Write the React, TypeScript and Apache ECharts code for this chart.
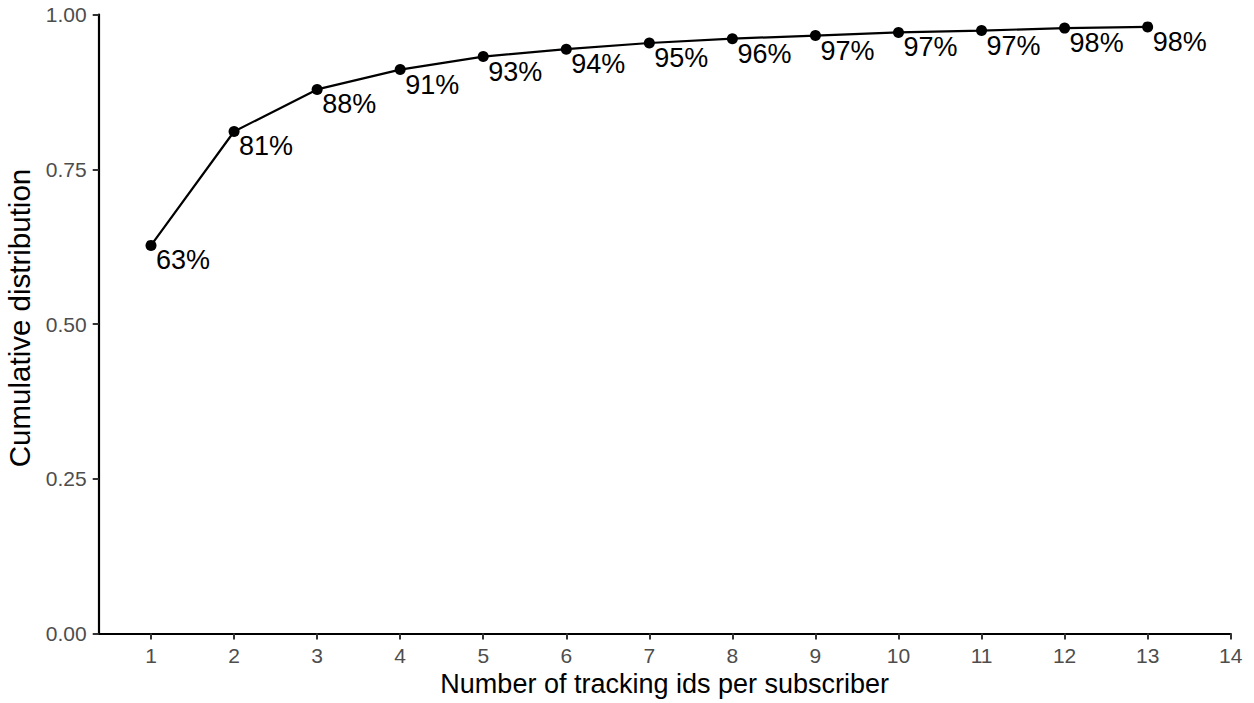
import React, { useEffect, useRef } from 'react';
import * as echarts from 'echarts';

// number of tracking ids per subscriber
const trackingIds = [1, 2, 3, 4, 5, 6, 7, 8, 9, 10, 11, 12, 13];
// cumulative share of subscribers
const cumulative = [0.627, 0.811, 0.879, 0.911, 0.932, 0.944, 0.954, 0.961, 0.966, 0.971, 0.974, 0.978, 0.98];
// x axis tick labels
const xTicks = [1, 2, 3, 4, 5, 6, 7, 8, 9, 10, 11, 12, 13, 14];

const FONT = "'Liberation Sans', Arial, Helvetica, sans-serif";

export default function App() {
  const chartRef = useRef<HTMLDivElement>(null);

  useEffect(() => {
    if (!chartRef.current) return;
    const chart = echarts.init(chartRef.current, null, { renderer: 'svg' });

    const option: any = {
      animation: false,
      backgroundColor: '#ffffff',
      textStyle: { fontFamily: FONT },
      grid: {
        left: 98.7,
        right: 23.3,
        top: 14.5,
        bottom: 69.5,
        containLabel: false,
        outerBoundsMode: 'none',
      },
      xAxis: {
        type: 'value',
        min: 0.37,
        max: 14,
        name: 'Number of tracking ids per subscriber',
        nameLocation: 'middle',
        nameGap: 34,
        nameTextStyle: { color: '#000000', fontSize: 27, fontFamily: FONT },
        axisLine: { show: true, onZero: false, lineStyle: { color: '#000000', width: 2.2 } },
        axisTick: {
          show: true,
          length: 6,
          customValues: xTicks,
          lineStyle: { color: '#333333', width: 2 },
        },
        axisLabel: {
          customValues: xTicks,
          margin: 11,
          color: '#4d4d4d',
          fontSize: 21,
          fontFamily: FONT,
        },
        splitLine: { show: false },
      },
      yAxis: {
        type: 'value',
        min: 0,
        max: 1,
        interval: 0.25,
        name: 'Cumulative distribution',
        nameLocation: 'middle',
        nameGap: 62.5,
        nameTextStyle: {
          color: '#000000',
          fontSize: 29.5,
          fontFamily: FONT,
          padding: [0, 0, 0, 12],
        },
        axisLine: { show: true, lineStyle: { color: '#000000', width: 2.2 } },
        axisTick: { show: true, length: 6, lineStyle: { color: '#333333', width: 2 } },
        axisLabel: {
          margin: 12,
          color: '#4d4d4d',
          fontSize: 21,
          fontFamily: FONT,
          formatter: (v: number) => v.toFixed(2),
        },
        splitLine: { show: false },
      },
      series: [
        {
          type: 'line',
          data: trackingIds.map((x, i) => [x, cumulative[i]]),
          symbol: 'circle',
          symbolSize: 11,
          showAllSymbol: true,
          lineStyle: { color: '#000000', width: 2.2 },
          itemStyle: { color: '#000000' },
          label: {
            show: true,
            position: [10.5, 7],
            align: 'left',
            verticalAlign: 'top',
            color: '#000000',
            fontSize: 27,
            fontFamily: FONT,
            formatter: (p: any) => Math.round(p.value[1] * 100) + '%',
          },
          emphasis: { disabled: true },
        },
      ],
    };

    chart.setOption(option);
    return () => {
      chart.dispose();
    };
  }, []);

  return (
    <div
      ref={chartRef}
      style={{ position: 'absolute', left: 0, top: 0, width: 1254, height: 703 }}
    />
  );
}
